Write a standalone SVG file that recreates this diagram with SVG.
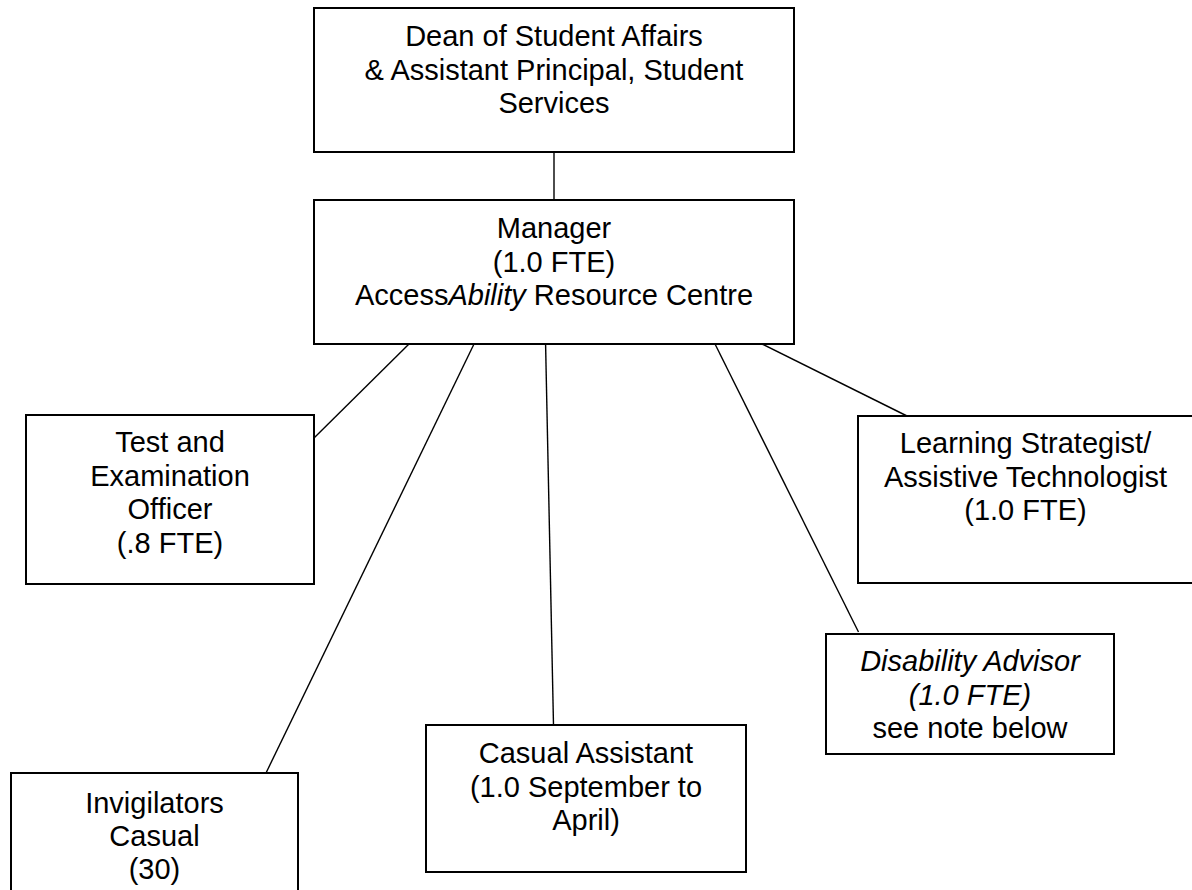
<svg xmlns="http://www.w3.org/2000/svg" width="1192" height="890" viewBox="0 0 1192 890">
<style>
.box{fill:#fff;stroke:#000;stroke-width:2}
.lbl{font-family:"Liberation Sans",Arial,sans-serif;font-size:29px;fill:#000;text-anchor:middle}
.it{font-style:italic}
.conn line{stroke:#000;stroke-width:1.4}
</style>
<rect width="1192" height="890" fill="#fff"/>
<g id="connectors" class="conn">
<line x1="554" y1="152" x2="554" y2="200"/>
<line x1="410" y1="343" x2="314" y2="438"/>
<line x1="474.5" y1="343" x2="266" y2="773"/>
<line x1="545.5" y1="340" x2="553.5" y2="725"/>
<line x1="714" y1="342" x2="858.5" y2="632"/>
<line x1="762" y1="344" x2="907" y2="416"/>
</g>
<g id="dean">
<rect class="box" x="314" y="8" width="480" height="144"/>
<text class="lbl" x="554" y="46">Dean of Student Affairs</text>
<text class="lbl" x="554" y="79.5">&amp; Assistant Principal, Student</text>
<text class="lbl" x="554" y="113">Services</text>
</g>
<g id="manager">
<rect class="box" x="314" y="200" width="480" height="144"/>
<text class="lbl" x="554" y="238">Manager</text>
<text class="lbl" x="554" y="271.5">(1.0 FTE)</text>
<text class="lbl" x="554" y="305">Access<tspan class="it">Ability</tspan> Resource Centre</text>
</g>
<g id="test-officer">
<rect class="box" x="26" y="415" width="288" height="169"/>
<text class="lbl" x="170" y="452">Test and</text>
<text class="lbl" x="170" y="485.5">Examination</text>
<text class="lbl" x="170" y="519">Officer</text>
<text class="lbl" x="170" y="552.5">(.8 FTE)</text>
</g>
<g id="learning-strategist">
<rect class="box" x="858" y="416" width="336" height="167"/>
<text class="lbl" x="1025.5" y="453">Learning Strategist/</text>
<text class="lbl" x="1025.5" y="486.5">Assistive Technologist</text>
<text class="lbl" x="1025.5" y="520">(1.0 FTE)</text>
</g>
<g id="disability-advisor">
<rect class="box" x="826" y="634" width="288" height="120"/>
<text class="lbl it" x="970" y="671">Disability Advisor</text>
<text class="lbl it" x="970" y="704.5">(1.0 FTE)</text>
<text class="lbl" x="970" y="738">see note below</text>
</g>
<g id="casual-assistant">
<rect class="box" x="426" y="725" width="320" height="147"/>
<text class="lbl" x="586" y="763">Casual Assistant</text>
<text class="lbl" x="586" y="796.5">(1.0 September to</text>
<text class="lbl" x="586" y="830">April)</text>
</g>
<g id="invigilators">
<rect class="box" x="11" y="773" width="287" height="125"/>
<text class="lbl" x="154.5" y="813">Invigilators</text>
<text class="lbl" x="154.5" y="846">Casual</text>
<text class="lbl" x="154.5" y="879">(30)</text>
</g>
</svg>
